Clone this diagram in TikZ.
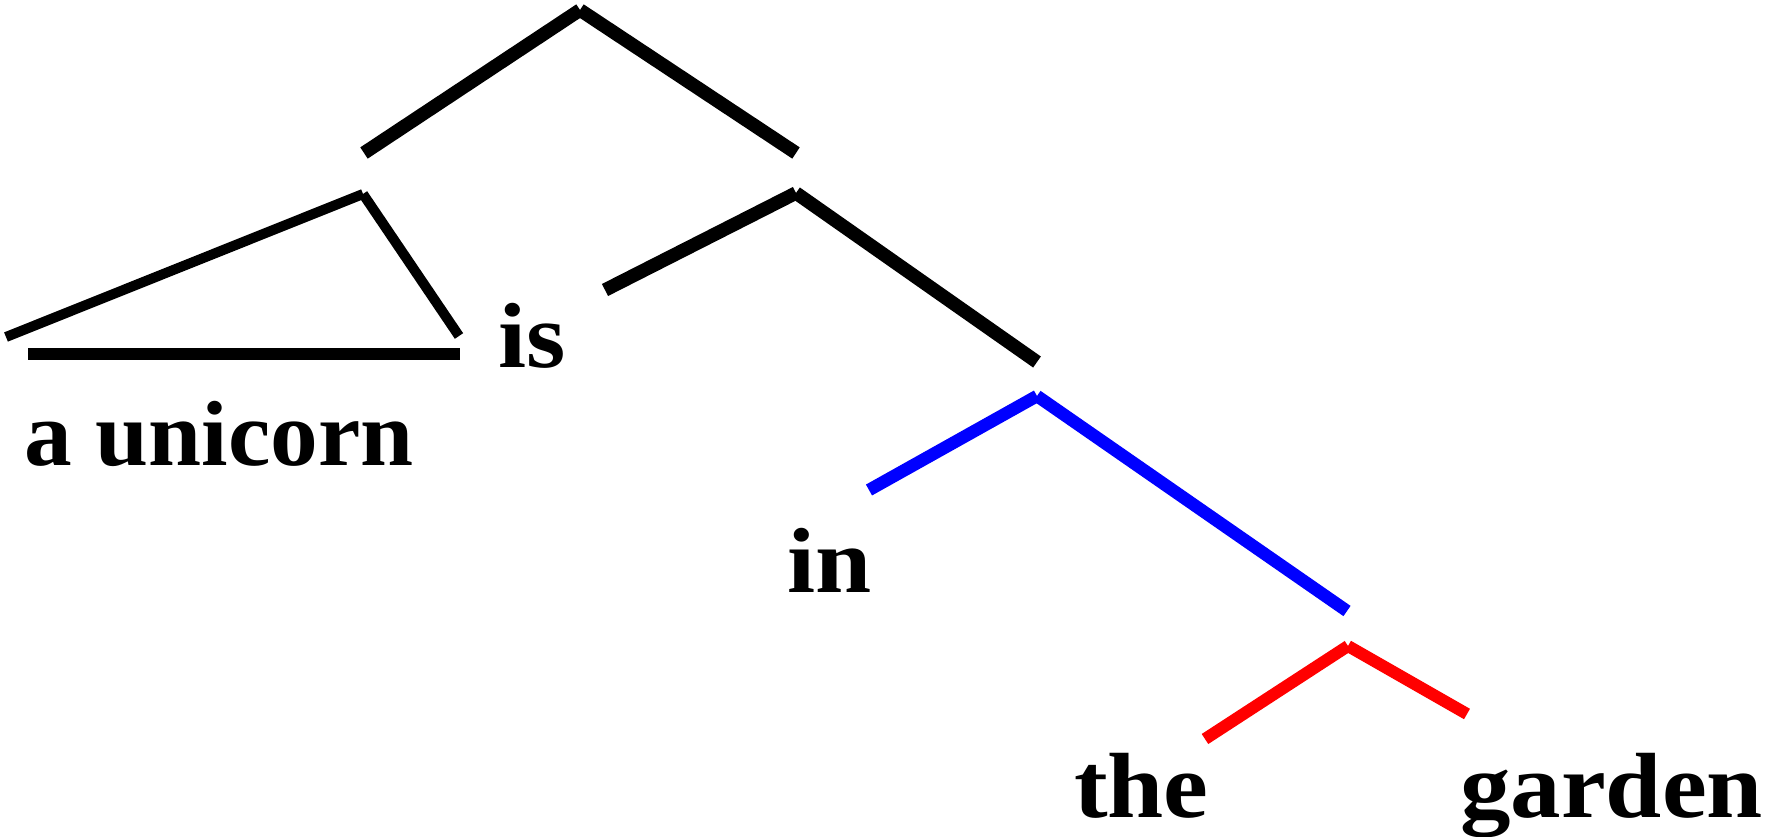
\documentclass[tikz,border=0pt]{standalone}
\usepackage{fontspec}
\setmainfont{Liberation Serif}[FakeStretch=1.09]
\newfontfamily\narrowserif{Liberation Serif}[FakeStretch=1.03]
\begin{document}
\begin{tikzpicture}[x=1pt,y=-1pt,
  word/.style={inner sep=0pt,anchor=base west,font=\fontsize{92.6}{100}\selectfont\bfseries},
  thick1/.style={line width=13.5pt,black},
  thin1/.style={line width=10pt,black},
  bar/.style={line width=12.5pt,black},
  blueln/.style={line width=12.5pt,blue},
  redln/.style={line width=12pt,red}]
\useasboundingbox (0,0) rectangle (1769,837);
% tree points
\coordinate (root) at (580,10);
\coordinate (sub) at (364,153);
\coordinate (vp) at (796,153);
\coordinate (subtop) at (363,194);
\coordinate (subl) at (6,337);
\coordinate (subr) at (459,336);
\coordinate (barl) at (28,354);
\coordinate (barr) at (460,354);
\coordinate (vptop) at (796,193);
\coordinate (vpl) at (605,290);
\coordinate (vpr) at (1037,362);
\coordinate (pptop) at (1037,396);
\coordinate (ppl) at (869,490);
\coordinate (ppr) at (1347,611);
\coordinate (nptop) at (1348,646);
\coordinate (npl) at (1205,739);
\coordinate (npr) at (1467,714);
% words
\node[word,font=\fontsize{92.6}{100}\selectfont\narrowserif\bfseries] (unicorn) at (24,465) {a unicorn};
\node[word] (is) at (498,367) {is};
\node[word] (in) at (787,592) {in};
\node[word] (the) at (1074,817) {the};
\node[word] (garden) at (1460,817) {garden};
% lines
\draw[thick1] (root) -- (sub);
\draw[thick1] (root) -- (vp);
\draw[thin1] (subtop) -- (subl);
\draw[thin1] (subtop) -- (subr);
\draw[bar] (barl) -- (barr);
\draw[thick1] (vptop) -- (vpl);
\draw[thick1] (vptop) -- (vpr);
\draw[blueln] (pptop) -- (ppl);
\draw[blueln] (pptop) -- (ppr);
\draw[redln] (nptop) -- (npl);
\draw[redln] (nptop) -- (npr);
\end{tikzpicture}
\end{document}
